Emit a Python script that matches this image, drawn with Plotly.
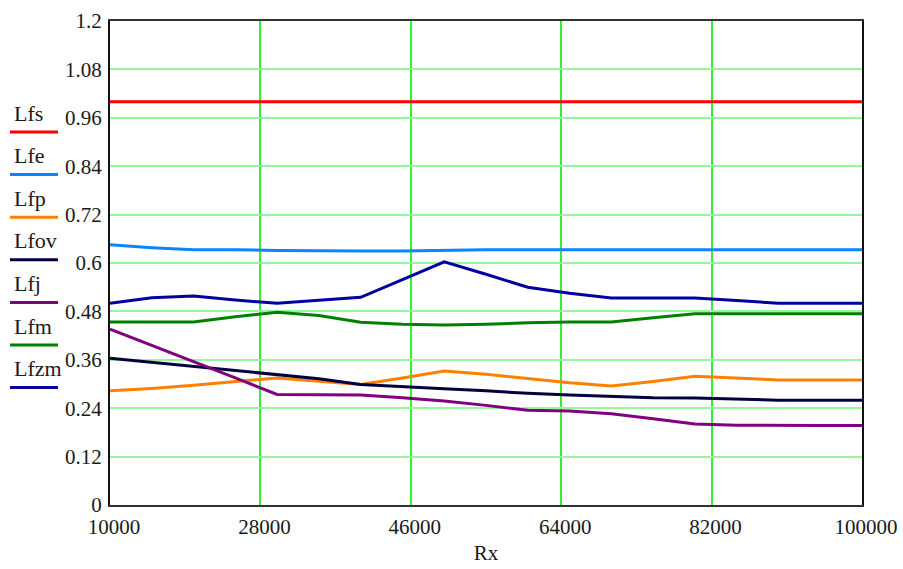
import plotly.graph_objects as go

# ---- data ----
rx = [10000, 15000, 20000, 25000, 30000, 35000, 40000, 45000, 50000, 55000,
      60000, 65000, 70000, 75000, 80000, 85000, 90000, 95000, 100000]

Lfs = [1.0, 1.0, 1.0, 1.0, 1.0, 1.0, 1.0, 1.0, 1.0, 1.0,
       1.0, 1.0, 1.0, 1.0, 1.0, 1.0, 1.0, 1.0, 1.0]
Lfe = [0.645, 0.638, 0.633, 0.633, 0.631, 0.630, 0.630, 0.630, 0.632, 0.633,
       0.633, 0.633, 0.633, 0.633, 0.633, 0.633, 0.633, 0.633, 0.633]
Lfp = [0.283, 0.289, 0.297, 0.306, 0.315, 0.307, 0.299, 0.315, 0.332, 0.324,
       0.314, 0.303, 0.295, 0.306, 0.319, 0.315, 0.310, 0.310, 0.310]
Lfov = [0.364, 0.354, 0.343, 0.333, 0.323, 0.313, 0.299, 0.293, 0.288, 0.283,
        0.277, 0.273, 0.269, 0.266, 0.265, 0.262, 0.260, 0.260, 0.260]
Lfj = [0.436, 0.396, 0.355, 0.315, 0.274, 0.274, 0.273, 0.266, 0.258, 0.247,
       0.235, 0.233, 0.226, 0.214, 0.201, 0.198, 0.197, 0.197, 0.197]
Lfm = [0.454, 0.454, 0.454, 0.467, 0.478, 0.470, 0.453, 0.448, 0.446, 0.448,
       0.452, 0.454, 0.454, 0.464, 0.474, 0.474, 0.474, 0.474, 0.474]
Lfzm = [0.500, 0.514, 0.518, 0.508, 0.500, 0.507, 0.515, 0.559, 0.603, 0.572,
        0.540, 0.525, 0.513, 0.513, 0.513, 0.507, 0.500, 0.500, 0.500]

series_names = ["Lfs", "Lfe", "Lfp", "Lfov", "Lfj", "Lfm", "Lfzm"]
series_values = [Lfs, Lfe, Lfp, Lfov, Lfj, Lfm, Lfzm]
series_colors = ["#ff0000", "#0a84ff", "#ff8000", "#000040", "#800080", "#008000", "#0000a0"]

x_tick_vals = [10000, 28000, 46000, 64000, 82000, 100000]
x_tick_text = ["10000", "28000", "46000", "64000", "82000", "100000"]
y_tick_vals = [0, 0.12, 0.24, 0.36, 0.48, 0.6, 0.72, 0.84, 0.96, 1.08, 1.2]
y_tick_text = ["0", "0.12", "0.24", "0.36", "0.48", "0.6", "0.72", "0.84", "0.96", "1.08", "1.2"]

FONT = "Liberation Serif"

fig = go.Figure()
for name, vals, col in zip(series_names, series_values, series_colors):
    fig.add_trace(go.Scatter(x=rx, y=vals, mode="lines", name=name,
                             line=dict(color=col, width=3), showlegend=False))

# custom legend (label above a line sample), in the left margin
W, H = 903, 569
ml, mr, mt, mb = 110, 41, 21, 64
pw, ph = W - ml - mr, H - mt - mb
def px_x(p):
    return (p - ml) / pw
def px_y(p):
    return (H - mb - p) / ph

for i, (name, col) in enumerate(zip(series_names, series_colors)):
    ly = 132 + i * 42.6
    fig.add_shape(type="line", xref="paper", yref="paper",
                  x0=px_x(10), x1=px_x(58), y0=px_y(ly), y1=px_y(ly),
                  line=dict(color=col, width=3))
    fig.add_annotation(xref="paper", yref="paper", x=px_x(12), y=px_y(ly - 19),
                       text=name, showarrow=False, xanchor="left", yanchor="middle",
                       font=dict(family=FONT, size=22, color="#1a1a1a"))

fig.update_layout(
    width=W, height=H,
    margin=dict(l=ml, r=mr, t=mt, b=mb),
    paper_bgcolor="white", plot_bgcolor="white",
    font=dict(family=FONT, size=21, color="#1a1a1a"),
)
fig.update_xaxes(range=[10000, 100000], tickvals=x_tick_vals, ticktext=x_tick_text,
                 showgrid=True, gridcolor="#33ee33", gridwidth=1.5,
                 showline=True, linecolor="#333333", linewidth=2, mirror=True,
                 zeroline=False, ticks="", ticklabelstandoff=2, ticklabelshift=4,
                 automargin=False,
                 title=dict(text="Rx", standoff=7, font=dict(family=FONT, size=21)))
fig.update_yaxes(range=[0, 1.2], tickvals=y_tick_vals, ticktext=y_tick_text,
                 showgrid=True, gridcolor="#99f599", gridwidth=1.5,
                 showline=True, linecolor="#111111", linewidth=2, mirror=True,
                 zeroline=False, ticks="", ticklabelstandoff=2, automargin=False)

fig.write_html("out.html")
